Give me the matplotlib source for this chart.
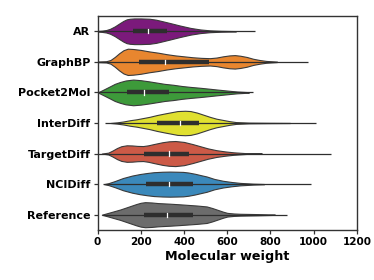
import numpy as np
import matplotlib
matplotlib.use("Agg")
import matplotlib.pyplot as plt

methods = ["AR", "GraphBP", "Pocket2Mol", "InterDiff", "TargetDiff", "NCIDiff", "Reference"]
colors = ["#7b1a7b", "#e8862f", "#3d9a3a", "#e0e030", "#cc5a47", "#3b89bb", "#6c6c6c"]

# violin outlines: molecular weight -> half width (category units)
ar_mw = [0, 20, 40, 58, 80, 104, 120, 135, 150, 170, 200, 240, 270, 300, 335, 380, 430, 475, 520, 570, 640]
ar_w = [0.01, 0.02, 0.04, 0.08, 0.16, 0.27, 0.34, 0.39, 0.41, 0.42, 0.42, 0.41, 0.38, 0.33, 0.27, 0.19, 0.11, 0.06, 0.03, 0.015, 0.006]
gbp_mw = [0, 40, 60, 80, 100, 120, 140, 165, 200, 240, 280, 320, 360, 400, 440, 480, 520,
          550, 580, 610, 635, 660, 690, 720, 750, 780, 830]
gbp_w = [0.01, 0.02, 0.06, 0.16, 0.28, 0.38, 0.43, 0.42, 0.39, 0.34, 0.30, 0.25, 0.21, 0.18, 0.15, 0.13, 0.12,
         0.14, 0.18, 0.21, 0.22, 0.20, 0.16, 0.10, 0.06, 0.03, 0.008]
p2m_mw = [0, 10, 30, 58, 80, 104, 130, 165, 200, 240, 275, 310, 350, 390, 430, 470, 505, 545, 580, 615, 645, 700]
p2m_w = [0.0, 0.03, 0.10, 0.20, 0.28, 0.34, 0.39, 0.42, 0.40, 0.36, 0.32, 0.28, 0.25, 0.21, 0.18, 0.155, 0.13, 0.10, 0.075, 0.05, 0.03, 0.008]
intd_mw = [60, 90, 120, 150, 180, 210, 240, 275, 310, 340, 370, 405, 430, 460, 490, 520, 550, 580, 610, 640, 700, 800, 890]
intd_w = [0.0, 0.02, 0.05, 0.09, 0.12, 0.16, 0.20, 0.26, 0.31, 0.35, 0.39, 0.40, 0.39, 0.34, 0.27, 0.20, 0.14, 0.10, 0.06, 0.03, 0.012, 0.006, 0.003]
tgd_mw = [20, 50, 70, 90, 110, 135, 160, 185, 211, 235, 260, 300, 330, 360, 400, 440, 475, 510, 550, 590, 630, 690, 760]
tgd_w = [0.0, 0.03, 0.10, 0.18, 0.24, 0.27, 0.265, 0.25, 0.245, 0.27, 0.31, 0.37, 0.40, 0.41, 0.38, 0.31, 0.24, 0.17, 0.11, 0.07, 0.04, 0.012, 0.004]
nci_mw = [30, 50, 80, 118, 160, 196, 230, 260, 300, 335, 370, 396, 420, 450, 480, 505, 540, 580, 620, 660, 720, 770]
nci_w = [0.0, 0.03, 0.10, 0.20, 0.28, 0.33, 0.365, 0.39, 0.405, 0.41, 0.405, 0.40, 0.38, 0.34, 0.29, 0.25, 0.17, 0.11, 0.07, 0.04, 0.015, 0.005]
ref_mw = [20, 30, 55, 80, 105, 130, 155, 180, 200, 220, 250, 280, 335, 380, 420, 460, 505, 530, 555, 580, 600, 630, 660, 740, 820]
ref_w = [0.0, 0.02, 0.07, 0.12, 0.17, 0.23, 0.29, 0.35, 0.39, 0.41, 0.40, 0.38, 0.36, 0.34, 0.32, 0.30, 0.27, 0.22, 0.16, 0.10, 0.06, 0.04, 0.03, 0.02, 0.006]

violin_mw = [ar_mw, gbp_mw, p2m_mw, intd_mw, tgd_mw, nci_mw, ref_mw]
violin_w = [ar_w, gbp_w, p2m_w, intd_w, tgd_w, nci_w, ref_w]

# box statistics: q1, median, q3, whisker low, whisker high
q1 = [163, 193, 138, 274, 215, 223, 216]
median = [235, 312, 215, 381, 331, 332, 323]
q3 = [322, 517, 331, 469, 423, 440, 443]
whisk_lo = [0, 0, 0, 35, 2, 27, 19]
whisk_hi = [728, 974, 720, 1010, 1078, 986, 878]

fig = plt.figure(figsize=(3.74, 2.80), dpi=100)
ax = fig.add_axes([0.2607, 0.1786, 0.6938, 0.7643])

for i in range(len(methods)):
    mw = np.array(violin_mw[i])
    w = np.array(violin_w[i])
    ax.fill_between(mw, i - w, i + w, facecolor=colors[i], edgecolor="#3a3a3a",
                    linewidth=0.8, zorder=2)
    ax.plot([whisk_lo[i], whisk_hi[i]], [i, i], color="#2e2e2e", lw=0.9, zorder=3,
            solid_capstyle="butt")
    ax.plot([q1[i], q3[i]], [i, i], color="#2e2e2e", lw=3.2, zorder=4,
            solid_capstyle="butt")
    ax.plot([median[i], median[i]], [i - 0.07, i + 0.07], color="white", lw=0.9, zorder=5)

ax.set_xlim(0, 1200)
ax.set_ylim(6.5, -0.5)
ax.set_yticks(range(len(methods)))
ax.set_yticklabels(methods, fontweight="bold", fontsize=8)
ax.set_xticks(range(0, 1201, 200))
ax.set_xticklabels([str(v) for v in range(0, 1201, 200)], fontweight="bold", fontsize=7.5)
ax.set_xlabel("Molecular weight", fontweight="bold", fontsize=9.2, labelpad=2)
ax.tick_params(length=3, width=0.9, color="#333333", pad=2)
for s in ax.spines.values():
    s.set_color("#333333")
    s.set_linewidth(1.0)

fig.savefig("out.png", dpi=100)
